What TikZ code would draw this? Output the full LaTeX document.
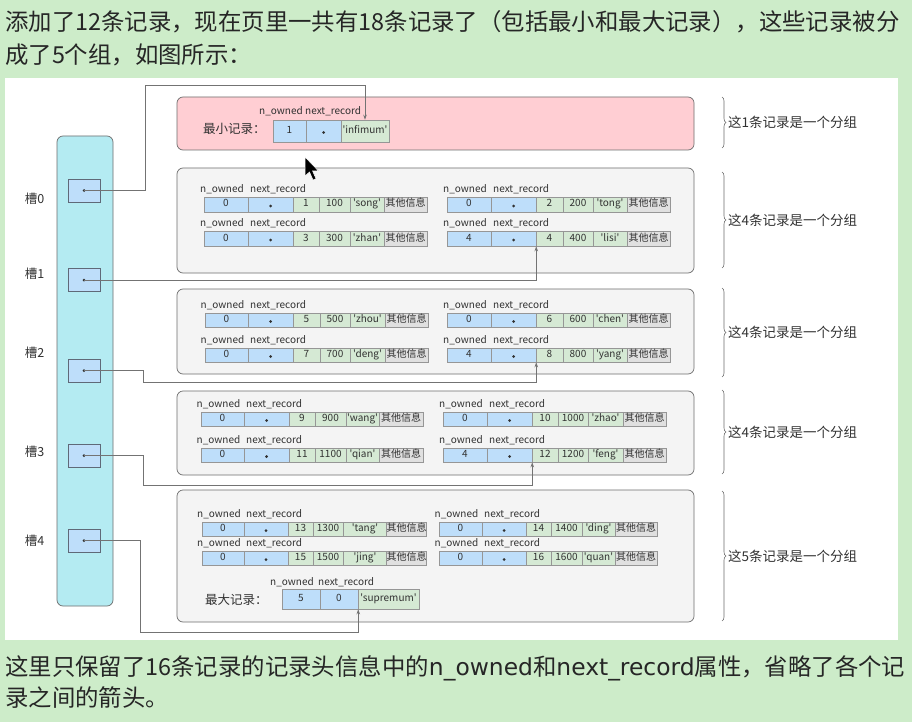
\documentclass[tikz,border=0pt]{standalone}
\usepackage{fontspec}
\setmainfont{Noto Sans CJK SC}[Ligatures=TeXOff]
\newfontfamily\dv{DejaVu Sans}
\usetikzlibrary{arrows.meta,decorations.pathreplacing}
\definecolor{bggreen}{RGB}{205,236,201}
\definecolor{pinkbox}{RGB}{255,206,211}
\definecolor{graybox}{RGB}{244,244,244}
\definecolor{cyancol}{RGB}{180,235,242}
\definecolor{bluecell}{RGB}{190,222,250}
\definecolor{greencell}{RGB}{213,233,212}
\definecolor{graycell}{RGB}{224,224,224}
\definecolor{edgegray}{RGB}{110,110,110}
\definecolor{slotedge}{RGB}{95,105,120}
\definecolor{celledge}{RGB}{150,150,150}
\definecolor{txt}{RGB}{50,50,50}
\definecolor{linegray}{RGB}{115,115,115}
\tikzset{
  cell/.style={draw=celledge, line width=0.5pt, inner sep=0pt, text=txt,
    font=\fontsize{10}{10}\selectfont, text height=7pt, text depth=2pt},
  bluec/.style={fill=bluecell},
  greenc/.style={fill=greencell},
  grayc/.style={fill=graycell},
  lbl/.style={inner sep=0pt, text=txt, font=\fontsize{10}{11}\selectfont},
  groupbox/.style={draw=edgegray, line width=0.7pt, fill=graybox, rounded corners=6pt, inner sep=0pt},
  pinkbx/.style={draw=edgegray, line width=0.7pt, fill=pinkbox, rounded corners=6pt, inner sep=0pt},
  colbox/.style={draw=edgegray, line width=0.7pt, fill=cyancol, rounded corners=6pt, inner sep=0pt,
    minimum width=56pt, minimum height=470pt},
  slotbox/.style={draw=slotedge, line width=0.7pt, fill=bluecell, inner sep=0pt,
    minimum width=32pt, minimum height=23pt},
  slotlbl/.style={inner sep=0pt, text=txt, font=\fontsize{12.5}{13}\selectfont},
  brc/.style={draw=edgegray, line width=0.6pt, decorate, decoration={brace, amplitude=4pt}},
  brclbl/.style={inner sep=0pt, anchor=west, text=txt, font=\fontsize{13.5}{14}\selectfont},
  conn/.style={draw=linegray, line width=1pt},
  connarrow/.style={conn, -{Stealth[length=5pt,width=3.5pt]}},
  para/.style={inner sep=0pt, anchor=west, text=black!85, font=\fontsize{23.4}{28}\selectfont},
  reclbl/.style={inner sep=0pt, anchor=west, text=txt, font=\fontsize{12.5}{13}\selectfont},
}
\newcommand\cellnode[7]{%
  \node[cell,#6,minimum width={#3-#2},minimum height={#5-#4}] (#1) at ({(#2+#3)/2},{(#4+#5)/2}) {#7};}
\newcommand\boxnode[6]{%
  \node[#6,minimum width={#4-#2},minimum height={#5-#3}] (#1) at ({(#2+#4)/2},{(#3+#5)/2}) {};}
\def\setxs#1,#2,#3,#4,#5,#6,#7\relax{\def\xa{#1}\def\xb{#2}\def\xc{#3}\def\xd{#4}\def\xe{#5}\def\xf{#6}\def\xg{#7}}
\newcommand\rec[8]{%
  \setxs#2\relax
  \cellnode{#1-n}{\xa}{\xb}{#3}{#4}{bluec}{#5}
  \cellnode{#1-p}{\xb}{\xc}{#3}{#4}{bluec}{}
  \cellnode{#1-id}{\xc}{\xd}{#3}{#4}{greenc}{#6}
  \cellnode{#1-num}{\xd}{\xe}{#3}{#4}{greenc}{#7}
  \cellnode{#1-nm}{\xe}{\xf}{#3}{#4}{greenc}{#8}
  \cellnode{#1-o}{\xf}{\xg}{#3}{#4}{grayc}{其他信息}
  \fill[txt] ([yshift=-1.5pt]#1-p.center) circle (1.5pt);
  \node[lbl] (#1-l1) at ({(\xa+\xb)/2-4},{#3-7.5}) {n\_owned};
  \node[lbl,anchor=west] (#1-l2) at ({\xb+2},{#3-7.5}) {next\_record};
}
\begin{document}
\begin{tikzpicture}[x=1pt,y=-1pt]
\useasboundingbox (0,0) rectangle (912,722);
\fill[bggreen] (0,0) rectangle (912,722);
\fill[white] (5,78) rectangle (898,640);

% paragraph text
\node[para] (t1) at (5,22) {添加了12条记录，现在页里一共有18条记录了（包括最小和最大记录），这些记录被分};
\node[para] (t2) at (5,55) {成了5个组，如图所示：};
\node[para] (t3) at (5,668) {这里只保留了16条记录的记录头信息中的{\dv n\_owned}和{\dv next\_record}属性，省略了各个记};
\node[para] (t4) at (5,698) {录之间的箭头。};

% group boxes
\boxnode{g0}{177}{97}{694}{150}{pinkbx}
\boxnode{g1}{177}{168}{694}{273}{groupbox}
\boxnode{g2}{177}{289}{694}{374}{groupbox}
\boxnode{g3}{177}{391}{694}{475}{groupbox}
\boxnode{g4}{177}{490}{694}{622}{groupbox}

% infimum
\node[reclbl] (minlbl) at (203,129) {最小记录：};
\cellnode{inf-n}{273}{306}{120}{142}{bluec}{1}
\cellnode{inf-p}{306}{341}{120}{142}{bluec}{}
\cellnode{inf-nm}{341}{389}{120}{142}{greenc}{'infimum'}
\fill[txt] ([yshift=-1.5pt]inf-p.center) circle (1.5pt);
\node[lbl] (inf-l1) at (281,111) {n\_owned};
\node[lbl,anchor=west] (inf-l2) at (305,111) {next\_record};

% group 1
\rec{g1a}{204,248,293,319,350,384,427}{197}{212}{0}{1}{100}{'song'}
\rec{g1b}{447,491,536,563,593,627,670}{197}{212}{0}{2}{200}{'tong'}
\rec{g1c}{204,248,293,319,350,384,427}{231}{246}{0}{3}{300}{'zhan'}
\rec{g1d}{447,491,536,563,593,627,670}{231}{246}{4}{4}{400}{'lisi'}
% group 2
\rec{g2a}{205,248,293,320,350,385,428}{313}{327}{0}{5}{500}{'zhou'}
\rec{g2b}{447,491,536,563,593,627,670}{313}{327}{0}{6}{600}{'chen'}
\rec{g2c}{205,248,293,320,350,385,428}{348}{362}{0}{7}{700}{'deng'}
\rec{g2d}{447,491,536,563,593,627,670}{348}{362}{4}{8}{800}{'yang'}
% group 3
\rec{g3a}{201,244,289,315,346,379,423}{412}{426}{0}{9}{900}{'wang'}
\rec{g3b}{443,487,532,558,588,623,666}{412}{426}{0}{10}{1000}{'zhao'}
\rec{g3c}{201,244,289,315,346,379,423}{448}{462}{0}{11}{1100}{'qian'}
\rec{g3d}{443,487,532,558,588,623,666}{448}{462}{4}{12}{1200}{'feng'}
% group 4
\rec{g4a}{202,244,288,313,343,387,426}{522}{536}{0}{13}{1300}{'tang'}
\rec{g4b}{439,482,526,551,582,615,657}{522}{536}{0}{14}{1400}{'ding'}
\rec{g4c}{202,244,288,313,343,387,426}{551}{565}{0}{15}{1500}{'jing'}
\rec{g4d}{439,482,526,551,582,615,657}{551}{565}{0}{16}{1600}{'quan'}

% supremum
\node[reclbl] (maxlbl) at (205,600) {最大记录：};
\cellnode{sup-n}{282}{320}{589}{609}{bluec}{5}
\cellnode{sup-p}{320}{358}{589}{609}{bluec}{0}
\cellnode{sup-nm}{358}{419}{589}{609}{greenc}{'supremum'}
\node[lbl] (sup-l1) at (292,582) {n\_owned};
\node[lbl,anchor=west] (sup-l2) at (318,582) {next\_record};

% slot column
\node[colbox] (col) at (85,371) {};
\node[slotbox] (s0) at (84,190.5) {};
\node[slotbox] (s1) at (84,280) {};
\node[slotbox] (s2) at (84,370.5) {};
\node[slotbox] (s3) at (84,455.5) {};
\node[slotbox] (s4) at (84,540.5) {};
\foreach \i in {0,...,4} {\fill[txt] (s\i.center) circle (1.5pt);}
\node[slotlbl] (l0) at (34.5,199) {槽0};
\node[slotlbl] (l1) at (34.5,274) {槽1};
\node[slotlbl] (l2) at (34.5,353) {槽2};
\node[slotlbl] (l3) at (34.5,452) {槽3};
\node[slotlbl] (l4) at (34.5,541) {槽4};

% connectors
\coordinate (b0) at (145,86);
\coordinate (b2) at (143,382);
\coordinate (b3) at (143,485);
\coordinate (b4) at (140,632);
\draw[conn] (s0.center) -| (b0);
\draw[connarrow] (b0) -| (inf-nm.north);
\draw[connarrow] (s1.center) -| (g1d-p.south east);
\draw[conn] (s2.center) -| (b2);
\draw[connarrow] (b2) -| (g2d-p.south east);
\draw[conn] (s3.center) -| (b3);
\draw[connarrow] (b3) -| (g3d-p.south east);
\draw[conn] (s4.center) -| (b4);
\draw[connarrow] (b4) -| (sup-p.south east);

% braces
\draw[brc] (722,97) -- (722,148);
\draw[brc] (722,172) -- (722,268);
\draw[brc] (722,288) -- (722,377);
\draw[brc] (722,390) -- (722,474);
\draw[brc] (722,491) -- (722,621);
\node[brclbl] (r0) at (728,122.5) {这1条记录是一个分组};
\node[brclbl] (r1) at (728,220) {这4条记录是一个分组};
\node[brclbl] (r2) at (728,332.5) {这4条记录是一个分组};
\node[brclbl] (r3) at (728,432) {这4条记录是一个分组};
\node[brclbl] (r4) at (728,556) {这5条记录是一个分组};

% mouse cursor
\filldraw[fill=black, draw=white, line width=0.5pt] (305,157) -- (305,176) -- (309.5,172) -- (313,180) -- (316,178.7) -- (312.6,171) -- (318.5,171) -- cycle;
\end{tikzpicture}
\end{document}
